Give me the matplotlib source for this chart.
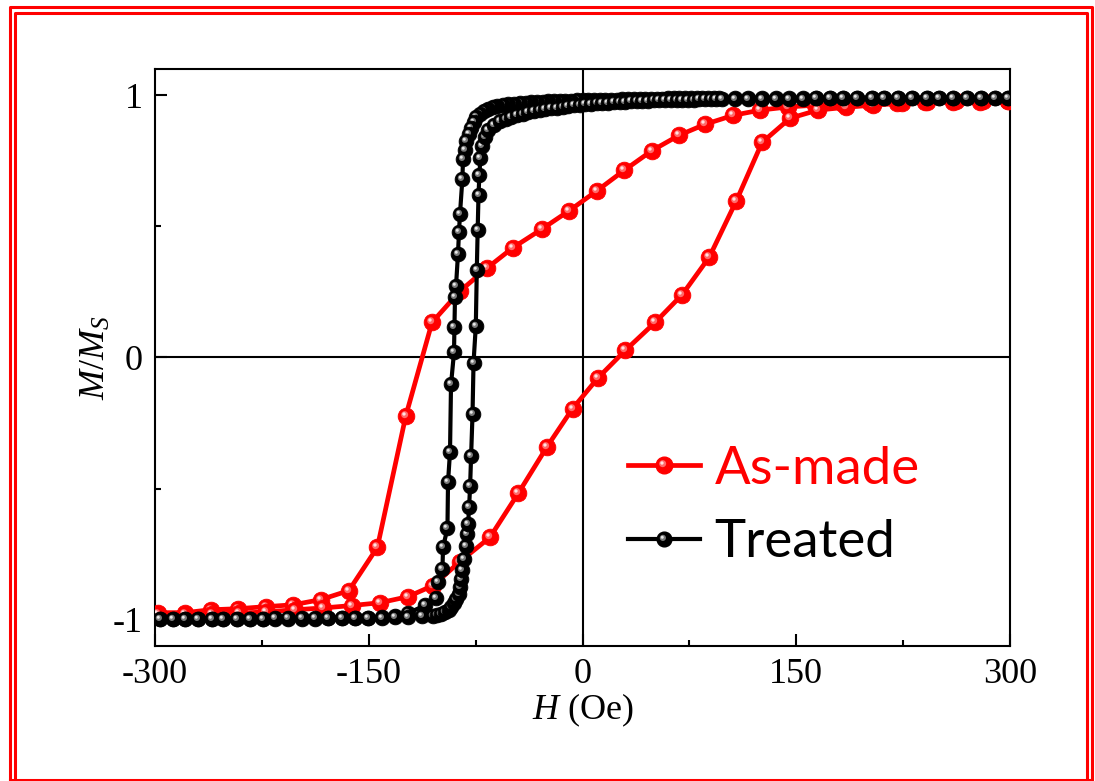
import matplotlib
matplotlib.use("Agg")
import matplotlib.pyplot as plt
from matplotlib.lines import Line2D
from matplotlib.path import Path
from matplotlib.legend_handler import HandlerTuple

plt.rcParams['font.family'] = 'Liberation Serif'
plt.rcParams['mathtext.fontset'] = 'custom'
plt.rcParams['mathtext.rm'] = 'Liberation Serif'
plt.rcParams['mathtext.it'] = 'Liberation Serif:italic'
plt.rcParams['axes.unicode_minus'] = False

# ---- As-made sample, descending and ascending branches ----
asmade_dn_h = [-298, -279, -261, -242, -222, -203, -183.5, -164, -144, -124, -105.6, -86, -67, -49,
               -28.4, -9.5, 10.2, 29.1, 48.8, 67.7, 86, 105.6, 124.6, 144, 163, 183, 202, 221, 240,
               260, 279, 298.6]
asmade_dn_m = [-0.973, -0.973, -0.962, -0.958, -0.950, -0.943, -0.923, -0.889, -0.724, -0.222, 0.134,
               0.253, 0.341, 0.418, 0.490, 0.559, 0.636, 0.713, 0.789, 0.847, 0.889, 0.923, 0.943,
               0.955, 0.962, 0.966, 0.969, 0.971, 0.973, 0.974, 0.975, 0.976]
asmade_up_h = [-298, -279, -260, -241, -222, -202, -182, -162, -142, -122.5, -105, -86, -65, -45, -25,
               -7, 11, 30, 51, 70, 89, 108, 126, 145.6, 165, 185, 204, 224, 242, 262, 281, 298.6]
asmade_up_m = [-0.978, -0.978, -0.977, -0.975, -0.970, -0.962, -0.955, -0.946, -0.935, -0.912, -0.870,
               -0.778, -0.686, -0.517, -0.341, -0.195, -0.077, 0.027, 0.134, 0.240, 0.383, 0.598,
               0.820, 0.912, 0.943, 0.954, 0.962, 0.969, 0.974, 0.976, 0.977, 0.978]

# ---- Treated sample ----
# descending branch (field swept from +300 to -300)
treated_dn_h = [298.6, 289.5, 279.6, 269.8, 260, 250.2, 241.8, 231.2, 221.4, 211.6, 203.2, 192.6, 182.8,
                173.7, 163.9, 154.7, 145, 135.8, 126, 116, 107,
                96, 92, 88, 84, 80, 76, 72, 68, 64, 60, 56, 52, 48, 44, 40, 36, 32, 28, 24, 20, 16, 12,
                8, 4, 0, -4, -8, -12, -16, -20, -24, -28, -32, -36, -40, -44, -48, -52, -56, -60, -63,
                -66, -69, -72, -74.5, -76.5, -78.3, -80, -81.5, -82.7,
                -83.9, -84.3, -86, -86.7, -87.4, -88.8, -89.5, -89.9, -90.2, -92.3, -93, -94.4, -94.8,
                -97.9, -98.3, -101.4, -102.8, -110.5,
                -122.5, -131.6, -140.7, -150.5, -159.6, -168.8, -178.6, -187.7, -196.8, -206.7, -215.8,
                -224.2, -233.3, -242.5, -252.3, -260, -269.8, -279, -287.4, -296.5]
treated_dn_m = [0.990, 0.990, 0.990, 0.990, 0.990, 0.990, 0.990, 0.990, 0.990, 0.990, 0.990, 0.990, 0.990,
                0.990, 0.990, 0.990, 0.990, 0.990, 0.990, 0.990, 0.990,
                0.990, 0.990, 0.990, 0.990, 0.989, 0.989, 0.989, 0.989, 0.988, 0.988, 0.987, 0.987,
                0.986, 0.986, 0.985, 0.985, 0.984, 0.984, 0.983, 0.983, 0.982, 0.982, 0.981, 0.981,
                0.981, 0.980, 0.979, 0.979, 0.978, 0.977, 0.976, 0.975, 0.974, 0.973, 0.972, 0.970,
                0.968, 0.966, 0.963, 0.959, 0.954, 0.948, 0.940, 0.930, 0.915, 0.897, 0.876, 0.852,
                0.825, 0.792,
                0.755, 0.682, 0.548, 0.479, 0.395, 0.272, 0.230, 0.115, 0.019, -0.103, -0.360, -0.475,
                -0.651, -0.724, -0.805, -0.858, -0.916, -0.945,
                -0.975, -0.985, -0.990, -0.993, -0.994, -0.995, -0.995, -0.996, -0.996, -0.996, -0.996,
                -0.997, -0.997, -0.997, -0.997, -0.997, -0.997, -0.997, -0.997, -0.997]
# ascending branch (field swept from -300 to +300)
treated_up_h = [-296.5, -287.4, -279, -269.8, -260, -252.3, -242.5, -233.3, -224.2, -215.8, -206.7,
                -196.8, -187.7, -178.6, -168.8, -159.6, -150.5, -140.7, -131.6, -122.5, -112.6,
                -105, -102, -99, -96.5, -94, -92, -90, -88.5, -87, -86, -85, -84.4, -83.5, -82, -81,
                -80.3, -79.6, -78.9, -78.2, -77.2, -76.5, -74.9, -74.2, -73.6, -73, -72.4, -71.7,
                -70.5, -68.6, -66, -62, -58, -54, -50, -46, -42, -38, -34, -30, -26, -22, -18, -14,
                -10, -6, -2, 2, 6, 10, 14, 18, 22, 26, 30, 34, 38, 42, 46, 50, 54, 58, 62, 66, 70, 74,
                78, 82, 86, 90, 94, 98,
                107, 116, 126, 135.8, 145, 154.7, 163.9, 173.7, 182.8, 192.6, 203.2, 211.6, 221.4,
                231.2, 241.8, 250.2, 260, 269.8, 279.6, 289.5, 298.6]
treated_up_m = [-0.996, -0.996, -0.996, -0.996, -0.996, -0.996, -0.996, -0.996, -0.996, -0.995, -0.995,
                -0.995, -0.995, -0.995, -0.994, -0.994, -0.993, -0.992, -0.991, -0.989, -0.987,
                -0.985, -0.982, -0.978, -0.972, -0.963, -0.952, -0.938, -0.920, -0.900, -0.875, -0.845,
                -0.810, -0.770, -0.720, -0.675, -0.635, -0.570, -0.490, -0.375, -0.215, -0.020, 0.120,
                0.335, 0.485, 0.620, 0.695, 0.760,
                0.805, 0.840, 0.866, 0.886, 0.900, 0.910, 0.917, 0.923, 0.929, 0.934, 0.939, 0.943,
                0.947, 0.950, 0.953, 0.956, 0.959, 0.961, 0.963, 0.965, 0.967, 0.969, 0.971, 0.972,
                0.973, 0.974, 0.975, 0.976, 0.977, 0.978, 0.979, 0.980, 0.980, 0.981, 0.981, 0.982,
                0.982, 0.983, 0.983, 0.984, 0.984, 0.985, 0.985, 0.986,
                0.986, 0.986, 0.987, 0.987, 0.987, 0.987, 0.988, 0.988, 0.988, 0.988, 0.988, 0.988,
                0.988, 0.988, 0.988, 0.988, 0.988, 0.988, 0.988, 0.988, 0.988]

x_ticks = [-300, -150, 0, 150, 300]
x_ticklabels = ['-300', '-150', '0', '150', '300']
y_ticks = [-1, 0, 1]
y_ticklabels = ['-1', '0', '1']
series_names = ['As-made', 'Treated']


def spot(d, r):
    # off-centre disc used as the shiny spot on each ball marker
    return Path.circle((-d, d), r)


def ball_parts(size, mid, light):
    # (marker, markersize, colour) triples drawn on top of the body
    return [(spot(0.22, 0.42), size * 0.64, mid),
            (spot(0.30, 0.20), size * 0.50, light)]


def draw_balls(ax, h, m, body, mid, light, size):
    parts = ball_parts(size, mid, light)
    for x, y in zip(h, m):
        ax.plot(x, y, 'o', ms=size, mfc=body, mec=body, mew=0.6, zorder=3)
        for mk, ms, c in parts:
            ax.plot(x, y, ls='none', marker=mk, ms=ms, mfc=c, mec='none', zorder=3)


def legend_handle(color, mid, light, size, lw):
    line = Line2D([], [], color=color, lw=lw, marker='o', ms=size, mfc=color, mec=color)
    spots = [Line2D([], [], ls='none', marker=mk, ms=ms, mfc=c, mec='none')
             for mk, ms, c in ball_parts(size, mid, light)]
    return tuple([line] + spots)


fig = plt.figure(figsize=(10.95, 7.81), dpi=100)
ax = fig.add_axes([0.1416, 0.1729, 0.7808, 0.7388])

ax.axhline(0, color='black', lw=1.5, zorder=1)
ax.axvline(0, color='black', lw=1.5, zorder=1)

red_size, blk_size = 12.0, 10.6
for h, m in [(asmade_dn_h, asmade_dn_m), (asmade_up_h, asmade_up_m)]:
    ax.plot(h, m, color='#ff0000', lw=3.4, zorder=2)
    draw_balls(ax, h, m, '#ff0000', '#ff6a6a', '#ffe2e2', red_size)
for h, m in [(treated_dn_h, treated_dn_m), (treated_up_h, treated_up_m)]:
    ax.plot(h, m, color='black', lw=3.0, zorder=2)
    draw_balls(ax, h, m, 'black', '#7a7a7a', '#e8e8e8', blk_size)

ax.set_xlim(-300, 300)
ax.set_ylim(-1.1, 1.1)
ax.set_xticks(x_ticks)
ax.set_xticklabels(x_ticklabels)
ax.set_xticks([-225, -75, 75, 225], minor=True)
ax.set_yticks(y_ticks)
ax.set_yticklabels(y_ticklabels)
ax.set_yticks([-0.5, 0.5], minor=True)
ax.tick_params(which='both', direction='in', width=1.5, labelsize=26)
ax.tick_params(which='major', length=8.5, pad=9)
ax.tick_params(which='minor', length=4.3)
for sp in ax.spines.values():
    sp.set_linewidth(1.5)

ax.set_xlabel('$H$ (Oe)', fontsize=26, labelpad=0)
ax.set_ylabel('$M/M_S$', fontsize=26, labelpad=0)

handles = [legend_handle('#ff0000', '#ff6a6a', '#ffe2e2', red_size, 3.4),
           legend_handle('black', '#7a7a7a', '#e8e8e8', blk_size, 3.0)]
ax.legend(handles, series_names, handler_map={tuple: HandlerTuple(ndivide=1, pad=0)},
          loc='center left', bbox_to_anchor=(0.553, 0.2426), frameon=False,
          prop={'family': 'Lato', 'size': 38}, labelcolor=['#ff0000', 'black'],
          handlelength=1.36, handletextpad=0.28, labelspacing=0.5,
          borderpad=0, borderaxespad=0)

# double red frame round the figure
W, H = 1095.0, 781.0


def frame(pts):
    xs = [p[0] / W for p in pts]
    ys = [1 - p[1] / H for p in pts]
    fig.add_artist(Line2D(xs, ys, transform=fig.transFigure, color='#ff0000', lw=2.2))


frame([(9.5, 779.5), (9.5, 6.5), (1092, 6.5), (1092, 779.5), (9.5, 779.5)])
frame([(15, 790), (15, 12.5), (1086.5, 12.5), (1086.5, 790)])

fig.savefig('out.png', dpi=100)
